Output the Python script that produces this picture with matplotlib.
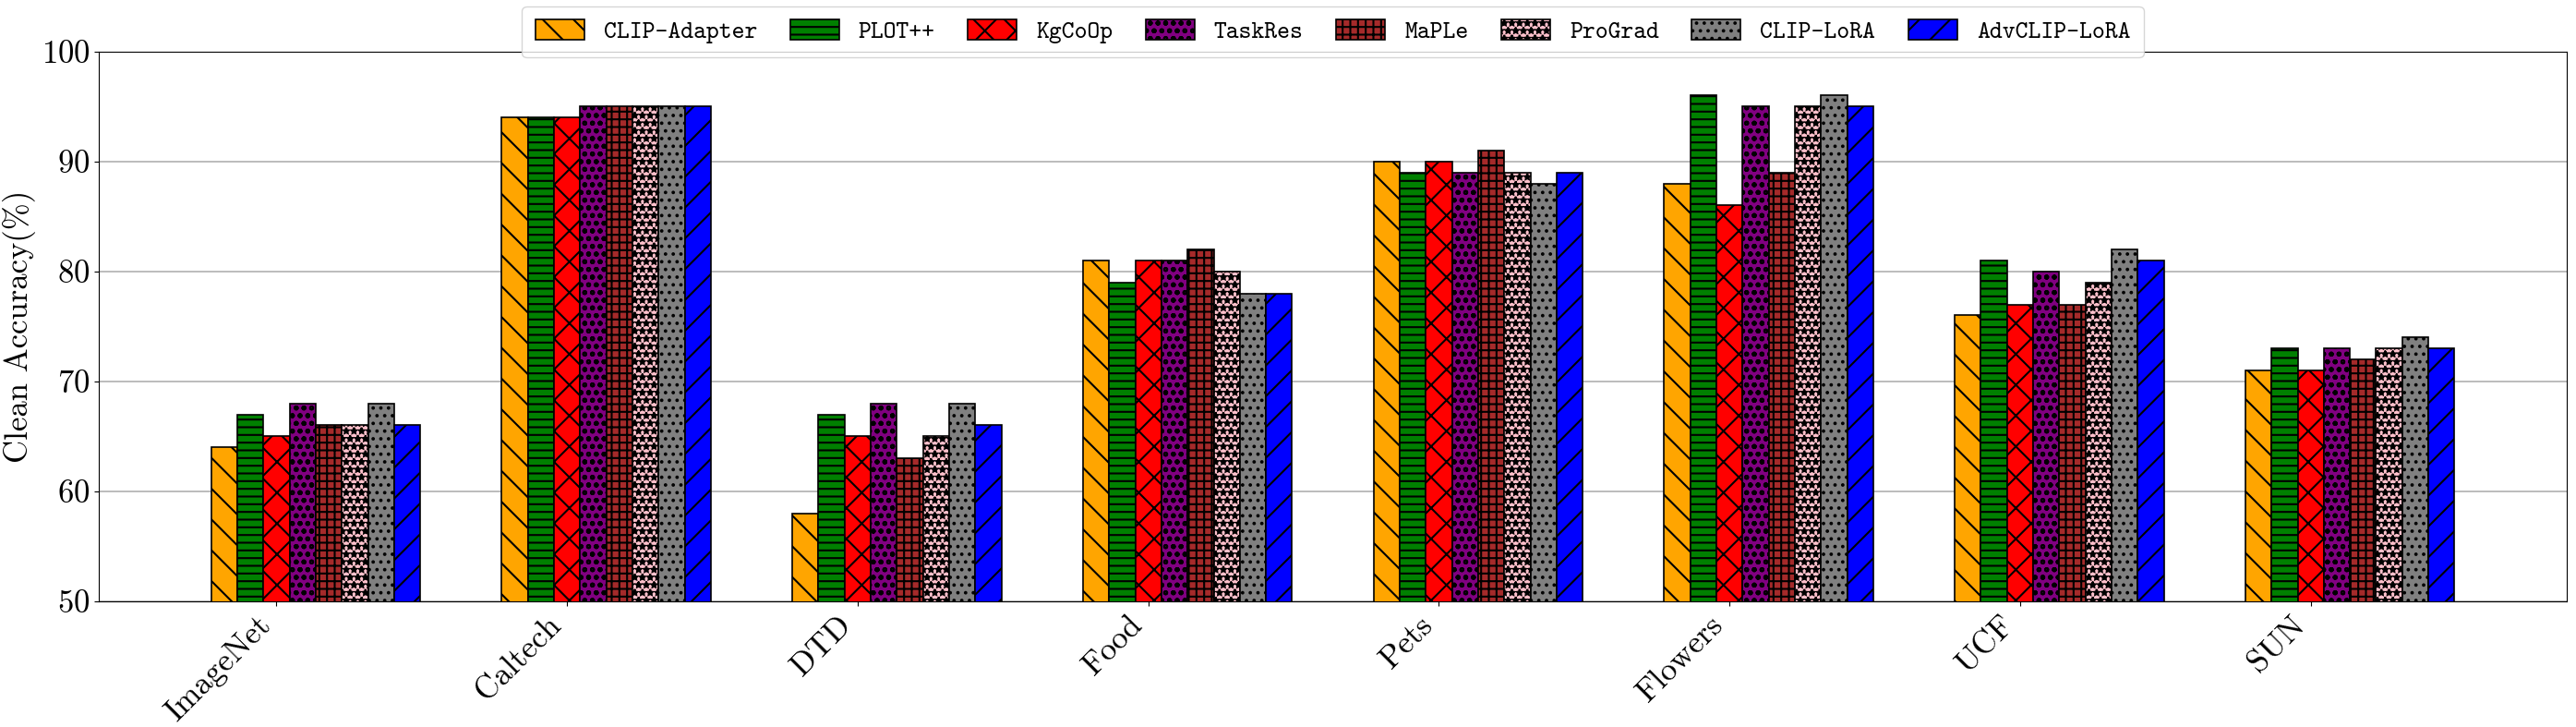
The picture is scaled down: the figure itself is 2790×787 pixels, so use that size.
import matplotlib
matplotlib.use("Agg")
import matplotlib.pyplot as plt
import numpy as np

plt.rcParams['font.family'] = 'serif'
plt.rcParams['font.serif'] = ['cmr10']
plt.rcParams['mathtext.fontset'] = 'cm'
plt.rcParams['axes.formatter.use_mathtext'] = True
plt.rcParams['hatch.linewidth'] = 1.5

datasets = ['ImageNet', 'Caltech', 'DTD', 'Food', 'Pets', 'Flowers', 'UCF', 'SUN']
methods = ['CLIP-Adapter', 'PLOT++', 'KgCoOp', 'TaskRes', 'MaPLe', 'ProGrad',
           'CLIP-LoRA', 'AdvCLIP-LoRA']

clip_adapter = [64, 94, 58, 81, 90, 88, 76, 71]
plot_pp = [67, 94, 67, 79, 89, 96, 81, 73]
kgcoop = [65, 94, 65, 81, 90, 86, 77, 71]
taskres = [68, 95, 68, 81, 89, 95, 80, 73]
maple = [66, 95, 63, 82, 91, 89, 77, 72]
prograd = [66, 95, 65, 80, 89, 95, 79, 73]
clip_lora = [68, 95, 68, 78, 88, 96, 82, 74]
advclip_lora = [66, 95, 66, 78, 89, 95, 81, 73]

scores = [clip_adapter, plot_pp, kgcoop, taskres, maple, prograd, clip_lora, advclip_lora]
colors = ['orange', 'green', 'red', 'purple', 'brown', 'pink', 'gray', 'blue']
hatches = ['\\', '--', 'x', 'oo', '++', '**', '..', '/']

fig = plt.figure(figsize=(27.9, 7.87), dpi=100)
ax = fig.add_axes([0.0384, 0.173, 0.958, 0.756])

x = np.arange(len(datasets))
width = 0.09

for i, (name, vals) in enumerate(zip(methods, scores)):
    ax.bar(x + (i - 2) * width, vals, width, label=name, color=colors[i],
           hatch=hatches[i], edgecolor='black', linewidth=1.2)

ax.set_ylim(50, 100)
ax.set_yticks(range(50, 101, 10))
ax.set_xticks(x)
ax.set_xticklabels(datasets, rotation=45, ha='right')
ax.tick_params(axis='both', labelsize=25)
ax.set_ylabel('Clean Accuracy(%)', fontsize=25)
ax.yaxis.grid(True, color='#b0b0b0', linewidth=1.2)
ax.set_axisbelow(True)

ax.legend(loc='lower center', bbox_to_anchor=(0.5, 0.99), ncol=8,
          prop={'family': 'cmtt10', 'size': 19}, borderaxespad=0.0,
          columnspacing=1.35, handleheight=0.9, borderpad=0.55)

fig.savefig('out.png', dpi=100)
